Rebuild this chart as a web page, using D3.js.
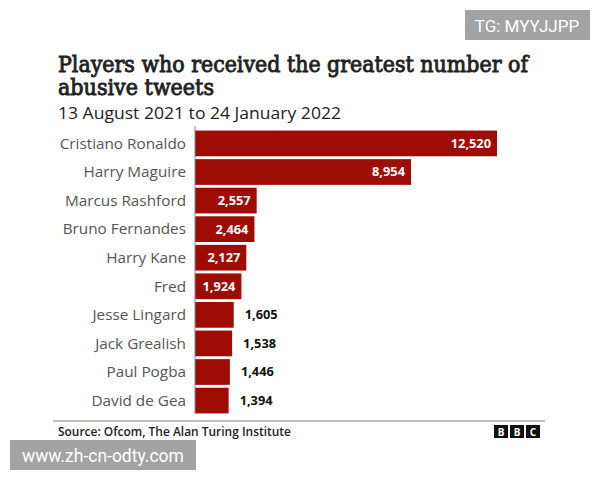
<!DOCTYPE html>
<html><head><meta charset="utf-8">
<script src="https://cdn.jsdelivr.net/npm/d3@7"></script>
<style>body{margin:0;background:#fff}svg{display:block}</style>
</head><body>
<svg id="c" width="600" height="480"></svg>
<script>
const players = ["Cristiano Ronaldo","Harry Maguire","Marcus Rashford","Bruno Fernandes","Harry Kane","Fred","Jesse Lingard","Jack Grealish","Paul Pogba","David de Gea"];
const tweets = [12520,8954,2557,2464,2127,1924,1605,1538,1446,1394];
const insideCount = 6;

const svg = d3.select("#c");
const sans = "'Open Sans', 'Noto Sans', sans-serif";

// watermarks
svg.append("rect").attr("x",465).attr("y",10).attr("width",125).attr("height",30).attr("fill","#a3a3a3");
svg.append("text").attr("x",527).attr("y",31.5).attr("text-anchor","middle").attr("fill","#fff")
  .attr("font-family","Roboto, sans-serif").attr("font-size",17).text("TG: MYYJJPP");

// title
svg.append("text").attr("x",58).attr("y",72).attr("font-family","'DejaVu Serif', serif")
  .attr("font-size",22).attr("fill","#222").attr("stroke","#222").attr("stroke-width",0.9)
  .attr("textLength",470).attr("lengthAdjust","spacingAndGlyphs")
  .text("Players who received the greatest number of");
svg.append("text").attr("x",58).attr("y",95).attr("font-family","'DejaVu Serif', serif")
  .attr("font-size",22).attr("fill","#222").attr("stroke","#222").attr("stroke-width",0.9)
  .attr("textLength",156).attr("lengthAdjust","spacingAndGlyphs")
  .text("abusive tweets");
svg.append("text").attr("x",58).attr("y",119).attr("font-family",sans).attr("font-size",17).attr("fill","#222")
  .attr("textLength",283).attr("lengthAdjust","spacingAndGlyphs")
  .text("13 August 2021 to 24 January 2022");

const x = d3.scaleLinear().domain([0,12520]).range([195,497]);
const y = d3.scaleBand().domain(players).range([130,414]).paddingInner(0.1).paddingOuter(0.02);

svg.selectAll("rect.bar").data(players).join("rect").attr("class","bar")
  .attr("x",x(0)).attr("y",d=>y(d)).attr("height",y.bandwidth())
  .attr("width",(d,i)=>x(tweets[i])-x(0)).attr("fill","#9e0c05");

// axis line
svg.append("line").attr("x1",195).attr("x2",195).attr("y1",126).attr("y2",414).attr("stroke","#888").attr("stroke-width",1);

// category labels
svg.selectAll("text.cat").data(players).join("text").attr("class","cat")
  .attr("x",186).attr("y",d=>y(d)+y.bandwidth()/2).attr("dy","0.35em").attr("text-anchor","end")
  .attr("font-family",sans).attr("font-size",15.3).attr("fill","#555").text(d=>d);

const fmt = d3.format(",");
svg.selectAll("text.val").data(players).join("text").attr("class","val")
  .attr("x",(d,i)=> i<insideCount ? x(tweets[i])-6 : x(tweets[i])+11)
  .attr("y",d=>y(d)+y.bandwidth()/2).attr("dy","0.35em")
  .attr("text-anchor",(d,i)=> i<insideCount ? "end":"start")
  .attr("font-family",sans).attr("font-weight","bold").attr("font-size",12.8)
  .attr("fill",(d,i)=> i<insideCount ? "#fff":"#111").text((d,i)=>fmt(tweets[i]));

// footer
svg.append("line").attr("x1",53).attr("x2",545).attr("y1",421).attr("y2",421).attr("stroke","#aaa").attr("stroke-width",1.5);
svg.append("text").attr("x",58).attr("y",436).attr("font-family",sans).attr("font-weight",600).attr("font-size",12.5)
  .attr("fill","#222").attr("textLength",233).attr("lengthAdjust","spacingAndGlyphs")
  .text("Source: Ofcom, The Alan Turing Institute");
const bbc = ["B","B","C"];
bbc.forEach((l,i)=>{
  svg.append("rect").attr("x",494+i*16).attr("y",425).attr("width",14).attr("height",13).attr("fill","#111");
  svg.append("text").attr("x",501+i*16).attr("y",435.5).attr("text-anchor","middle").attr("fill","#fff")
    .attr("font-family",sans).attr("font-weight","bold").attr("font-size",10).text(l);
});

svg.append("rect").attr("x",10).attr("y",440).attr("width",186).attr("height",30).attr("fill","#a3a3a3");
svg.append("text").attr("x",103).attr("y",461.5).attr("text-anchor","middle").attr("fill","#fff")
  .attr("font-family","Roboto, sans-serif").attr("font-size",17.5).text("www.zh-cn-odty.com");
</script>
</body></html>
